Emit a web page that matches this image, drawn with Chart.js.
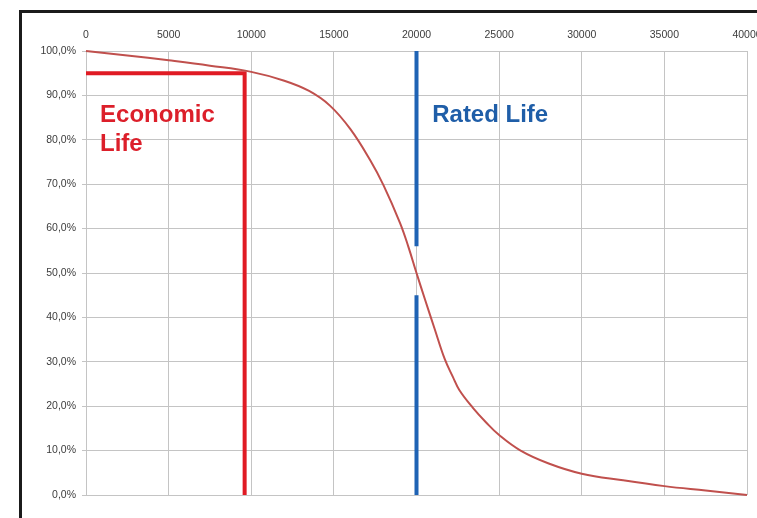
<!DOCTYPE html>
<html>
<head>
<meta charset="utf-8">
<script src="https://cdn.jsdelivr.net/npm/chart.js@4"></script>
<style>
  html, body { margin: 0; padding: 0; background: #fff; overflow: hidden; }
  #wrap { position: relative; width: 757px; height: 518px; }
  #frame {
    position: absolute; left: 19px; top: 10px; width: 800px; height: 600px;
    border-left: 3px solid #1b1b1b; border-top: 3px solid #1b1b1b;
    pointer-events: none;
  }
</style>
</head>
<body>
<div id="wrap">
  <canvas id="lifeChart"></canvas>
  <div id="frame"></div>
</div>
<script>
// survival curve (hours, % still working)
const hours = [0, 2500, 5000, 7500, 10000, 12000, 13500, 14760, 16000, 17200, 18000, 19000, 19500, 20000,
  20500, 21100, 21700, 22200, 22600, 23400, 24200, 25000, 26300, 28000, 30000, 32500, 35000, 37500, 40000];
const survival = [100, 99, 97.9, 96.7, 95.3, 93.3, 91, 87.7, 82.4, 75.4, 69.8, 61.3, 56, 50,
  44.2, 37.4, 30.7, 26.6, 23.6, 19.7, 16.4, 13.5, 10, 7.1, 4.8, 3.3, 2, 1, 0];

// economic life marker
const econHours = [0, 9600, 9600];
const econPct = [95, 95, 0];

// rated life marker (gap around the curve)
const ratedHours = [20000, 20000, 20000, 20000, 20000];
const ratedPct = [100, 56, null, 45, 0];

const xTicks = [0, 5000, 10000, 15000, 20000, 25000, 30000, 35000, 40000];
const yTicks = [0, 10, 20, 30, 40, 50, 60, 70, 80, 90, 100];

const toPoints = (xs, ys) => xs.map((x, i) => ({ x: x, y: ys[i] }));

const labelPlugin = {
  id: "lifeLabels",
  afterDatasetsDraw(chart) {
    const c = chart.ctx;
    const xs = chart.scales.x;
    const ys = chart.scales.y;
    c.save();
    c.font = "bold 24px 'Liberation Sans', Arial, sans-serif";
    c.textBaseline = "alphabetic";
    c.textAlign = "left";
    c.fillStyle = "#dc1f2a";
    const ex = xs.getPixelForValue(850);
    c.fillText("Economic", ex, ys.getPixelForValue(83.9));
    c.fillText("Life", ex, ys.getPixelForValue(77.5));
    c.fillStyle = "#1f5ea8";
    c.fillText("Rated Life", xs.getPixelForValue(20950), ys.getPixelForValue(83.9));
    c.restore();
  }
};

const tickFont = { family: "'Liberation Sans', Arial, sans-serif", size: 10.5 };

new Chart(document.getElementById("lifeChart"), {
  type: "line",
  data: {
    datasets: [
      {
        data: toPoints(hours, survival),
        borderColor: "#c0504d",
        borderWidth: 2,
        pointRadius: 0,
        tension: 0.4,
        clip: false
      },
      {
        data: toPoints(econHours, econPct),
        borderColor: "#e01b24",
        borderWidth: 4,
        pointRadius: 0,
        tension: 0,
        clip: false
      },
      {
        data: toPoints(ratedHours, ratedPct),
        borderColor: "#1f63b4",
        borderWidth: 4,
        pointRadius: 0,
        tension: 0,
        spanGaps: false,
        clip: false
      }
    ]
  },
  options: {
    responsive: true,
    maintainAspectRatio: false,
    animation: false,
    layout: { padding: { left: 0, right: 10, top: 0, bottom: 23 } },
    plugins: { legend: { display: false }, tooltip: { enabled: false } },
    scales: {
      x: {
        type: "linear",
        position: "top",
        min: 0,
        max: 40000,
        afterBuildTicks: s => { s.ticks = xTicks.map(v => ({ value: v })); },
        afterFit: s => { s.height = 51; s.paddingLeft = 0; s.paddingRight = 0; },
        grid: { color: "#c4c4c4", lineWidth: 1, drawTicks: false },
        border: { color: "#c4c4c4" },
        ticks: {
          font: tickFont,
          color: "#3c3c3c",
          padding: 10,
          maxRotation: 0,
          callback: v => String(v)
        }
      },
      y: {
        min: 0,
        max: 100,
        afterBuildTicks: s => { s.ticks = yTicks.map(v => ({ value: v })); },
        afterFit: s => { s.width = 86; s.paddingTop = 0; s.paddingBottom = 0; },
        grid: { color: "#c4c4c4", lineWidth: 1, tickLength: 4 },
        border: { color: "#c4c4c4" },
        ticks: {
          font: tickFont,
          color: "#3c3c3c",
          padding: 6,
          callback: v => v.toFixed(1).replace(".", ",") + "%"
        }
      }
    }
  },
  plugins: [labelPlugin]
});
</script>
</body>
</html>
